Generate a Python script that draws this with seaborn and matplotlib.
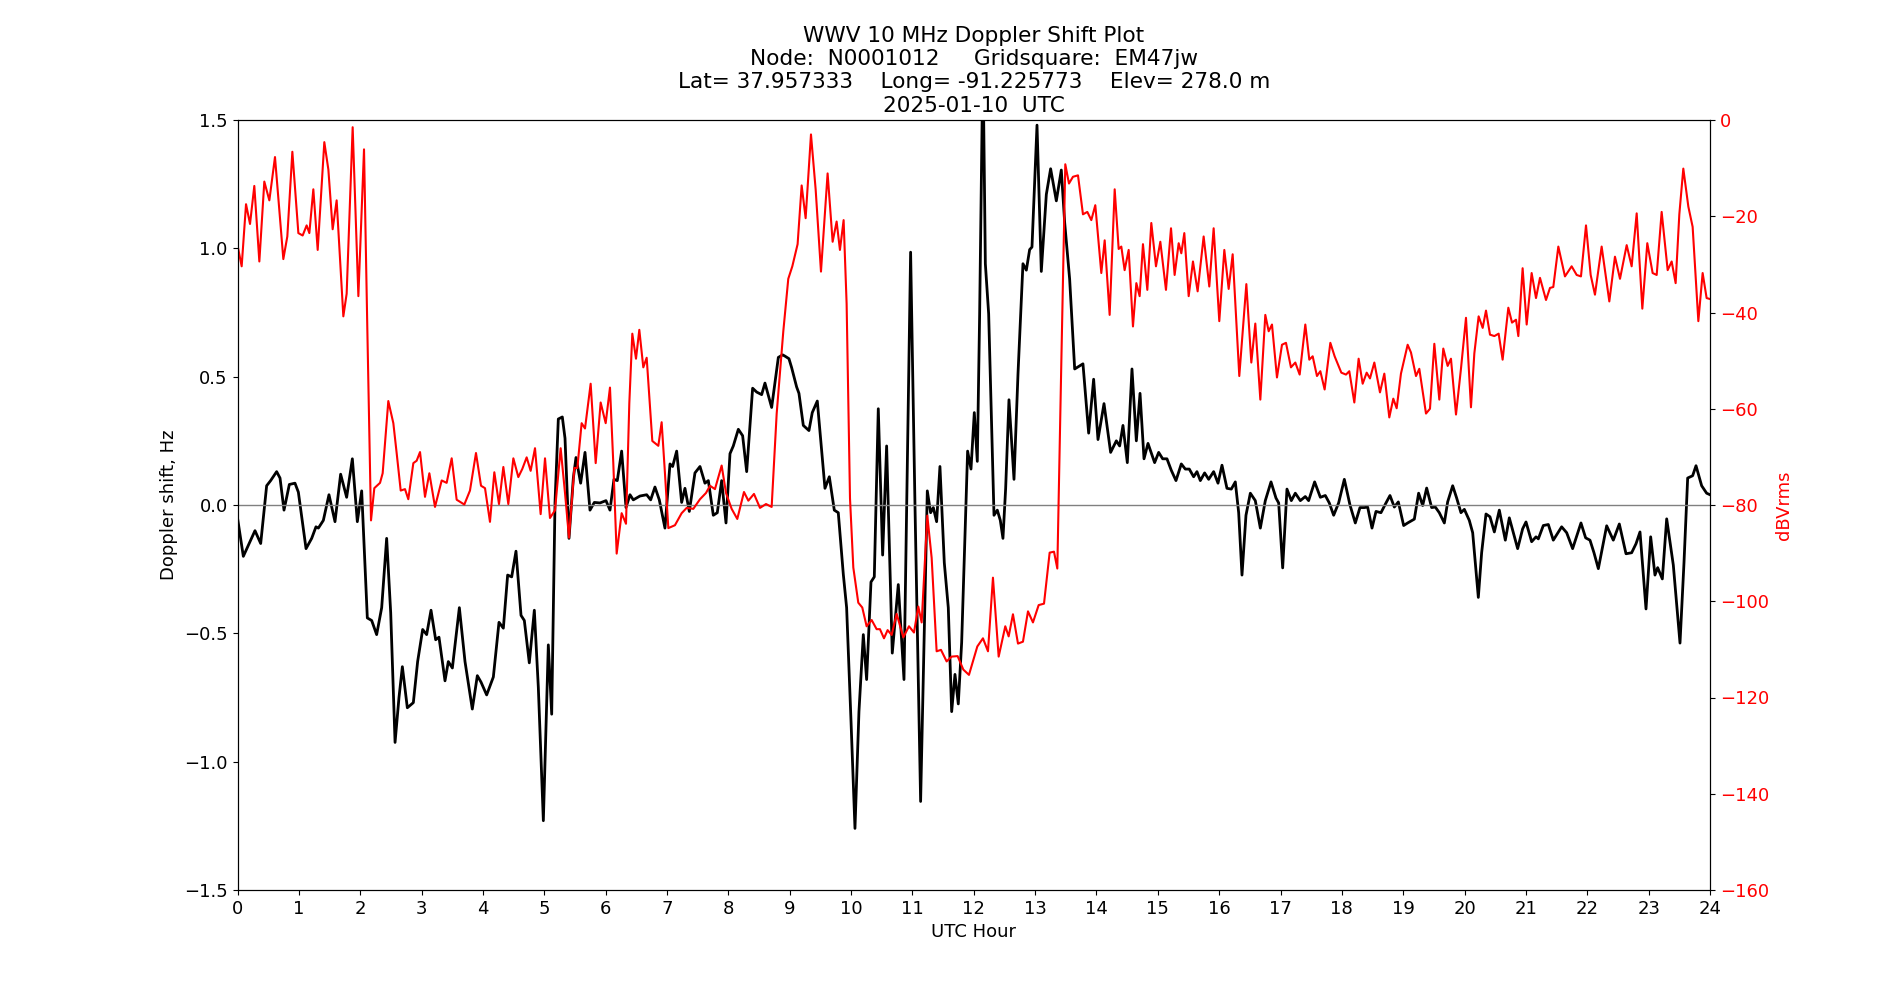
import pandas as pd
import matplotlib
matplotlib.use('Agg')
import matplotlib.pyplot as plt
import seaborn as sns

# Doppler shift trace (UTC hour, Hz)
doppler_hours = [
    0.0, 0.095, 0.285, 0.378, 0.475, 0.54, 0.638, 0.693, 0.758, 0.845, 0.937, 0.992,
    1.117, 1.209, 1.279, 1.318, 1.399, 1.491, 1.589, 1.681, 1.779, 1.872, 1.953,
    2.024, 2.062, 2.116, 2.187, 2.268, 2.35, 2.431, 2.497, 2.568, 2.632, 2.687, 2.768,
    2.866, 2.936, 3.018, 3.083, 3.154, 3.23, 3.284, 3.382, 3.436, 3.502, 3.616, 3.708,
    3.827, 3.909, 3.969, 4.061, 4.17, 4.262, 4.333, 4.403, 4.469, 4.539, 4.621, 4.675,
    4.756, 4.838, 4.903, 4.985, 5.066, 5.121, 5.175, 5.229, 5.294, 5.338, 5.403, 5.474,
    5.517, 5.593, 5.664, 5.745, 5.816, 5.908, 6.006, 6.071, 6.136, 6.19, 6.261, 6.332,
    6.397, 6.451, 6.56, 6.669, 6.734, 6.804, 6.875, 6.967, 7.049, 7.092, 7.158, 7.239,
    7.293, 7.364, 7.456, 7.538, 7.619, 7.674, 7.755, 7.82, 7.891, 7.962, 8.027, 8.081,
    8.163, 8.233, 8.299, 8.396, 8.462, 8.543, 8.597, 8.706, 8.815, 8.885, 8.923, 8.988,
    9.032, 9.113, 9.151, 9.222, 9.314, 9.368, 9.45, 9.51, 9.575, 9.646, 9.727, 9.792,
    9.874, 9.928, 10.0, 10.064, 10.129, 10.2, 10.254, 10.325, 10.379, 10.444, 10.515,
    10.58, 10.672, 10.77, 10.863, 10.971, 11.042, 11.134, 11.243, 11.297, 11.341,
    11.395, 11.449, 11.52, 11.585, 11.64, 11.694, 11.748, 11.803, 11.9, 11.955, 12.009,
    12.058, 12.096, 12.15, 12.189, 12.243, 12.275, 12.33, 12.384, 12.433, 12.476, 12.52,
    12.574, 12.656, 12.721, 12.802, 12.857, 12.911, 12.949, 13.031, 13.101, 13.183,
    13.253, 13.346, 13.427, 13.482, 13.563, 13.645, 13.78, 13.873, 13.954, 14.025,
    14.123, 14.231, 14.324, 14.378, 14.432, 14.503, 14.579, 14.65, 14.71, 14.775, 14.84,
    14.948, 15.014, 15.079, 15.149, 15.22, 15.296, 15.383, 15.448, 15.513, 15.584,
    15.638, 15.693, 15.763, 15.829, 15.91, 15.981, 16.046, 16.127, 16.198, 16.263,
    16.318, 16.372, 16.437, 16.508, 16.589, 16.671, 16.752, 16.845, 16.926, 16.97,
    17.035, 17.105, 17.176, 17.241, 17.323, 17.404, 17.458, 17.556, 17.649, 17.73,
    17.795, 17.866, 17.947, 18.04, 18.132, 18.219, 18.295, 18.366, 18.42, 18.491,
    18.556, 18.637, 18.719, 18.784, 18.855, 18.92, 19.007, 19.072, 19.181, 19.251,
    19.317, 19.382, 19.463, 19.523, 19.588, 19.67, 19.724, 19.806, 19.871, 19.941,
    19.996, 20.077, 20.132, 20.224, 20.278, 20.349, 20.414, 20.485, 20.566, 20.664,
    20.729, 20.865, 20.946, 21.001, 21.093, 21.164, 21.202, 21.283, 21.365, 21.446,
    21.582, 21.664, 21.761, 21.897, 21.973, 22.044, 22.109, 22.18, 22.316, 22.424,
    22.522, 22.631, 22.723, 22.794, 22.859, 22.957, 23.033, 23.103, 23.147, 23.223,
    23.294, 23.402, 23.511, 23.576, 23.636, 23.717, 23.772, 23.864, 23.945, 24.0,
]
doppler_hz = [
    -0.05, -0.2, -0.1, -0.15, 0.075, 0.095, 0.13, 0.105, -0.02, 0.08, 0.085, 0.05,
    -0.17, -0.13, -0.085, -0.09, -0.06, 0.04, -0.065, 0.12, 0.03, 0.18, -0.065,
    0.055, -0.15, -0.44, -0.45, -0.505, -0.4, -0.13, -0.42, -0.925, -0.75, -0.63, -0.79,
    -0.77, -0.61, -0.485, -0.505, -0.41, -0.525, -0.515, -0.685, -0.61, -0.635, -0.4, -0.61,
    -0.795, -0.665, -0.69, -0.74, -0.67, -0.457, -0.48, -0.273, -0.28, -0.18, -0.43, -0.45,
    -0.615, -0.41, -0.71, -1.23, -0.545, -0.815, 0.01, 0.335, 0.343, 0.26, -0.13, 0.105,
    0.185, 0.085, 0.205, -0.02, 0.01, 0.008, 0.017, -0.02, 0.1, 0.095, 0.21, -0.01,
    0.04, 0.02, 0.035, 0.04, 0.02, 0.07, 0.02, -0.09, 0.16, 0.15, 0.21, 0.01,
    0.065, -0.025, 0.125, 0.15, 0.085, 0.095, -0.04, -0.03, 0.095, -0.07, 0.2, 0.23,
    0.295, 0.27, 0.13, 0.455, 0.44, 0.43, 0.475, 0.38, 0.575, 0.585, 0.58, 0.57,
    0.535, 0.46, 0.435, 0.31, 0.29, 0.36, 0.405, 0.24, 0.065, 0.11, -0.02, -0.03,
    -0.27, -0.4, -0.845, -1.26, -0.805, -0.505, -0.68, -0.3, -0.28, 0.375, -0.195,
    0.23, -0.577, -0.31, -0.68, 0.985, 0.0, -1.155, 0.055, -0.03, -0.01,
    -0.065, 0.15, -0.225, -0.4, -0.805, -0.66, -0.775, -0.535, 0.21, 0.14, 0.36,
    0.17, 0.745, 1.75, 0.94, 0.745, 0.455, -0.04, -0.02, -0.06, -0.13, 0.065,
    0.41, 0.1, 0.51, 0.94, 0.915, 0.995, 1.005, 1.48, 0.91, 1.21,
    1.31, 1.185, 1.305, 1.1, 0.88, 0.53, 0.55, 0.28, 0.49, 0.255,
    0.395, 0.205, 0.25, 0.23, 0.31, 0.165, 0.53, 0.25, 0.435, 0.18, 0.24,
    0.165, 0.205, 0.18, 0.18, 0.135, 0.095, 0.16, 0.14, 0.14, 0.11,
    0.13, 0.095, 0.125, 0.1, 0.13, 0.085, 0.155, 0.065, 0.062, 0.09,
    -0.03, -0.273, -0.04, 0.046, 0.017, -0.09, 0.017, 0.09, 0.027, 0.008,
    -0.245, 0.062, 0.017, 0.046, 0.017, 0.033, 0.017, 0.09, 0.03, 0.037,
    0.008, -0.04, 0.008, 0.1, 0.0, -0.07, -0.01, -0.01, -0.008, -0.09,
    -0.025, -0.03, 0.008, 0.037, -0.008, 0.012, -0.08, -0.07, -0.055, 0.046,
    -0.002, 0.066, -0.01, -0.008, -0.03, -0.07, 0.012, 0.075, 0.027, -0.03,
    -0.017, -0.06, -0.108, -0.36, -0.186, -0.035, -0.046, -0.105, -0.02, -0.137,
    -0.05, -0.17, -0.093, -0.066, -0.143, -0.124, -0.132, -0.08, -0.076, -0.137,
    -0.085, -0.108, -0.17, -0.07, -0.128, -0.137, -0.186, -0.248, -0.081, -0.137,
    -0.074, -0.19, -0.186, -0.151, -0.105, -0.405, -0.124, -0.273, -0.244, -0.288,
    -0.054, -0.234, -0.538, -0.225, 0.105, 0.114, 0.153, 0.075, 0.046, 0.04,
]

# Received signal level (UTC hour, dBVrms)
power_hours = [
    0.0, 0.068, 0.139, 0.204, 0.274, 0.356, 0.437, 0.519, 0.611, 0.747, 0.812, 0.894,
    0.992, 1.062, 1.127, 1.171, 1.236, 1.307, 1.415, 1.481, 1.551, 1.616, 1.725, 1.779,
    1.877, 1.97, 2.062, 2.116, 2.176, 2.23, 2.323, 2.366, 2.458, 2.54, 2.594, 2.66,
    2.73, 2.784, 2.866, 2.92, 2.975, 3.056, 3.127, 3.219, 3.328, 3.409, 3.491, 3.572,
    3.697, 3.789, 3.887, 3.969, 4.034, 4.115, 4.186, 4.262, 4.333, 4.414, 4.496, 4.577,
    4.642, 4.713, 4.778, 4.849, 4.941, 5.012, 5.093, 5.175, 5.267, 5.338, 5.403, 5.49,
    5.539, 5.609, 5.664, 5.756, 5.838, 5.919, 6.001, 6.071, 6.125, 6.18, 6.261, 6.332,
    6.386, 6.435, 6.495, 6.549, 6.614, 6.669, 6.761, 6.859, 6.913, 6.967, 7.022, 7.13,
    7.239, 7.321, 7.429, 7.538, 7.636, 7.701, 7.782, 7.891, 7.962, 8.054, 8.146, 8.255,
    8.326, 8.418, 8.516, 8.614, 8.706, 8.788, 8.896, 8.977, 9.043, 9.129, 9.195, 9.26,
    9.347, 9.423, 9.51, 9.618, 9.7, 9.765, 9.819, 9.879, 9.928, 9.983, 10.037, 10.118,
    10.183, 10.254, 10.336, 10.417, 10.471, 10.537, 10.596, 10.662, 10.743, 10.852,
    10.944, 11.026, 11.096, 11.151, 11.243, 11.314, 11.395, 11.466, 11.558, 11.64,
    11.737, 11.83, 11.922, 12.058, 12.15, 12.232, 12.313, 12.406, 12.514, 12.569,
    12.639, 12.721, 12.802, 12.884, 12.965, 13.058, 13.145, 13.237, 13.308, 13.362,
    13.427, 13.492, 13.552, 13.617, 13.699, 13.78, 13.851, 13.916, 13.981, 14.079,
    14.134, 14.215, 14.297, 14.362, 14.405, 14.459, 14.525, 14.595, 14.65, 14.704,
    14.758, 14.829, 14.894, 14.97, 15.041, 15.133, 15.215, 15.274, 15.34, 15.383,
    15.432, 15.503, 15.573, 15.649, 15.747, 15.839, 15.91, 16.002, 16.084, 16.155,
    16.22, 16.328, 16.443, 16.524, 16.589, 16.671, 16.752, 16.807, 16.861, 16.942,
    17.024, 17.089, 17.17, 17.241, 17.312, 17.404, 17.469, 17.524, 17.594, 17.649,
    17.719, 17.812, 17.882, 17.991, 18.067, 18.121, 18.203, 18.273, 18.339, 18.404,
    18.458, 18.529, 18.621, 18.692, 18.773, 18.838, 18.893, 18.963, 19.072, 19.126,
    19.208, 19.262, 19.371, 19.436, 19.507, 19.588, 19.653, 19.724, 19.778, 19.86,
    19.941, 20.023, 20.104, 20.159, 20.229, 20.295, 20.349, 20.414, 20.485, 20.555,
    20.62, 20.713, 20.773, 20.838, 20.876, 20.946, 21.012, 21.093, 21.164, 21.229,
    21.327, 21.392, 21.446, 21.528, 21.636, 21.745, 21.827, 21.897, 21.979, 22.055,
    22.125, 22.234, 22.359, 22.451, 22.533, 22.642, 22.723, 22.805, 22.897, 22.978,
    23.065, 23.131, 23.212, 23.31, 23.375, 23.44, 23.5, 23.565, 23.647, 23.717,
    23.81, 23.88, 23.945, 24.0,
]
power_dbv = [
    -26.0, -30.4, -17.5, -21.6, -13.7, -29.4, -12.8, -16.7, -7.7, -28.9, -24.2, -6.6,
    -23.5, -24.0, -21.9, -23.5, -14.4, -27.0, -4.6, -10.3, -22.7, -16.7, -40.8, -36.1,
    -1.5, -36.6, -6.1, -43.4, -83.2, -76.5, -75.4, -73.4, -58.4, -63.0, -69.2, -77.0,
    -76.7, -78.8, -71.3, -70.8, -69.0, -78.3, -73.4, -80.4, -74.9, -75.4, -70.3, -78.9,
    -79.9, -77.0, -69.2, -76.0, -76.5, -83.5, -73.2, -79.8, -72.1, -79.8, -70.3, -74.2,
    -72.5, -70.1, -72.9, -68.2, -81.9, -70.3, -82.7, -81.1, -68.2, -77.5, -86.8, -72.3,
    -72.3, -63.0, -64.1, -54.8, -71.3, -58.7, -63.0, -55.6, -71.3, -90.1, -81.7, -83.9,
    -58.9, -44.4, -49.6, -43.6, -51.4, -49.4, -66.7, -67.7, -62.8, -73.4, -84.8, -84.2,
    -81.7, -80.6, -80.8, -78.8, -77.5, -76.0, -76.7, -71.8, -77.5, -80.8, -82.9, -77.3,
    -79.1, -77.7, -80.6, -79.8, -80.4, -61.0, -43.9, -33.0, -30.4, -25.8, -13.6, -20.4,
    -3.0, -14.4, -31.5, -11.1, -25.3, -21.1, -27.0, -20.8, -38.2, -78.6, -93.0, -100.3,
    -101.3, -105.2, -103.9, -105.8, -105.8, -107.7, -106.0, -107.0, -102.6, -107.5,
    -105.2, -106.5, -101.1, -104.4, -82.2, -91.0, -110.4, -110.1, -112.5, -111.5,
    -111.4, -114.2, -115.3, -109.4, -107.7, -110.4, -95.1, -111.5, -105.2, -107.3,
    -102.7, -108.8, -108.4, -102.1, -104.4, -100.8, -100.5, -89.9, -89.7, -93.2,
    -50.6, -9.2, -13.2, -11.8, -11.5, -19.6, -19.1, -20.8, -17.7, -31.8,
    -25.0, -40.5, -14.4, -26.8, -26.3, -31.2, -27.0, -42.9, -33.9, -36.6,
    -25.8, -35.3, -21.4, -30.4, -25.3, -35.3, -22.5, -32.2, -25.6, -27.7,
    -23.5, -36.6, -29.4, -35.6, -24.2, -34.6, -22.5, -41.8, -27.0, -35.1,
    -27.9, -53.2, -34.1, -50.4, -42.3, -58.1, -40.5, -43.9, -42.5, -53.5,
    -46.7, -46.3, -51.4, -50.4, -52.9, -42.5, -49.8, -49.1, -53.2, -52.2,
    -56.0, -46.3, -49.1, -52.5, -52.9, -52.2, -58.7, -49.6, -54.8, -52.5,
    -53.7, -50.4, -56.6, -52.7, -61.8, -57.9, -59.9, -52.7, -46.7, -48.3,
    -53.2, -51.7, -61.0, -60.0, -46.5, -58.1, -47.5, -51.1, -49.6, -61.2,
    -51.7, -41.1, -59.7, -48.5, -40.8, -43.2, -39.6, -44.6, -44.9, -44.4,
    -49.8, -39.0, -42.1, -41.5, -44.9, -30.8, -42.5, -31.8, -37.0, -32.8,
    -37.4, -34.9, -34.7, -26.3, -32.5, -30.4, -32.2, -32.5, -21.9, -32.2,
    -36.3, -26.3, -37.7, -28.4, -33.0, -26.0, -30.4, -19.4, -39.2, -25.6,
    -31.8, -32.2, -19.1, -31.2, -29.4, -33.9, -19.6, -10.1, -18.0, -22.2,
    -41.8, -31.8, -37.0, -37.2,
]

title_lines = [
    'WWV 10 MHz Doppler Shift Plot',
    'Node:  N0001012     Gridsquare:  EM47jw',
    'Lat= 37.957333    Long= -91.225773    Elev= 278.0 m',
    '2025-01-10  UTC',
]

doppler = pd.DataFrame({'hour': doppler_hours, 'shift': doppler_hz})
power = pd.DataFrame({'hour': power_hours, 'dbv': power_dbv})

plt.rcParams['font.size'] = 13

fig, ax = plt.subplots(figsize=(19, 10))
sns.lineplot(data=doppler, x='hour', y='shift', ax=ax, color='black', linewidth=2)
ax.axhline(0, color='grey', linewidth=1)
ax.set_xlim(0, 24)
ax.set_ylim(-1.5, 1.5)
ax.set_xticks(range(0, 25))
ax.set_xlabel('UTC Hour')
ax.set_ylabel('Doppler shift, Hz')

ax2 = ax.twinx()
sns.lineplot(data=power, x='hour', y='dbv', ax=ax2, color='red', linewidth=1.5)
ax2.set_ylim(-160, 0)
ax2.set_ylabel('dBVrms', color='red')
ax2.tick_params(axis='y', labelcolor='red')

ax.set_title('\n'.join(title_lines))

fig.savefig('out.png', dpi=100)
